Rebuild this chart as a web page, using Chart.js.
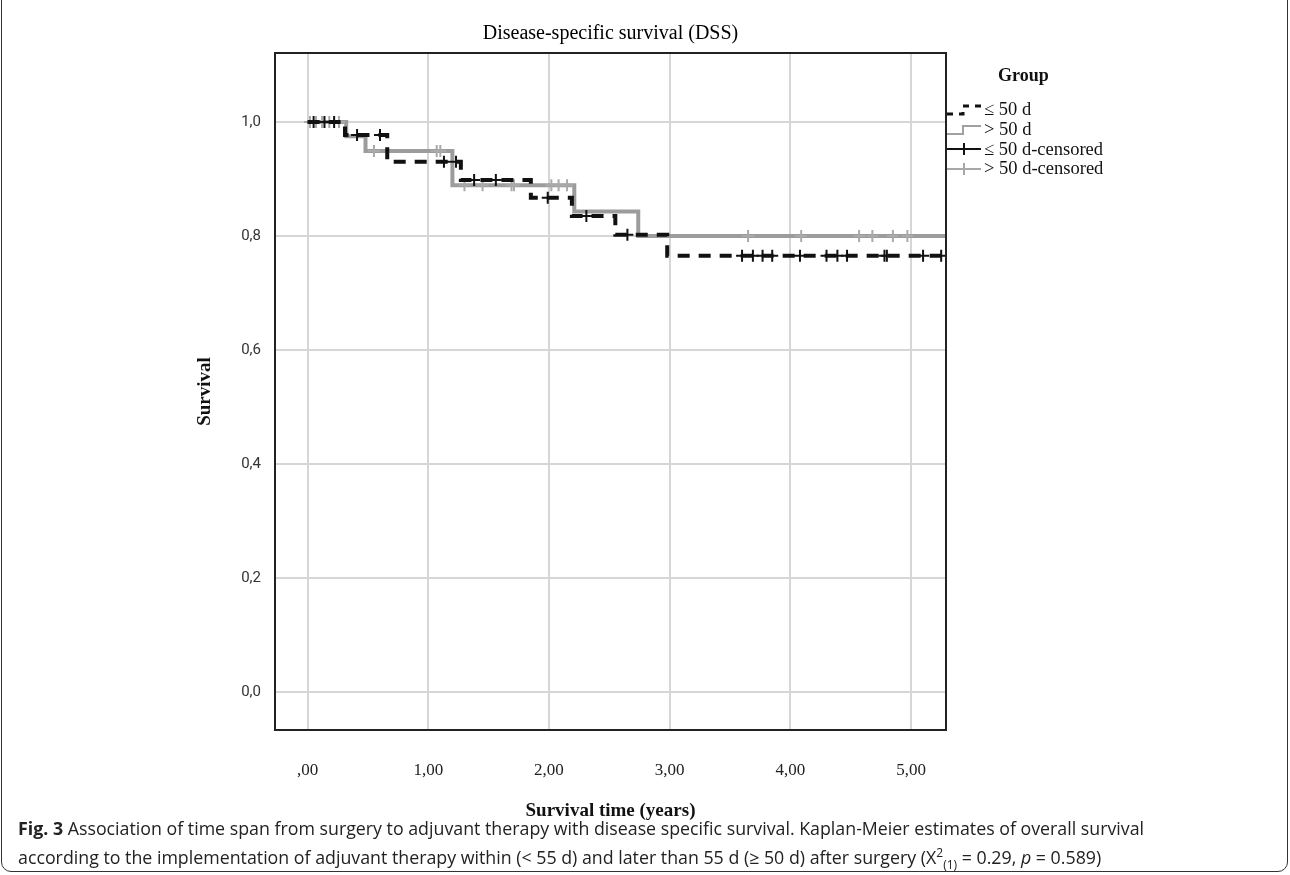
<!DOCTYPE html>
<html>
<head>
<meta charset="utf-8">
<script src="https://cdn.jsdelivr.net/npm/chart.js@4.4.0/dist/chart.umd.min.js"></script>
<style>
body { margin: 0; background: #fff; }
#frame { position: absolute; left: 1px; top: -10px; width: 1285px; height: 880px; border: 1.5px solid #333; border-radius: 10px; }
#wrap { position: absolute; left: 0; top: 0; width: 1290px; height: 840px; }
#legend { position: absolute; left: 946px; top: 65px; font-family: "Liberation Serif", serif; font-size: 18.5px; color: #111; }
#legend .head { font-weight: bold; font-size: 18px; margin-left: 52px; margin-bottom: 14px; }
#legend .row { display: flex; align-items: center; height: 19.7px; }
#legend svg { width: 36px; height: 14px; margin-right: 2px; }
#caption { position: absolute; left: 18px; top: 814px; font-family: "Liberation Sans Narrow", "Open Sans", sans-serif; font-size: 17.8px; line-height: 29px; color: #222; }
#caption sup, #caption sub { font-size: 12px; line-height: 0; }
</style>
</head>
<body>
<div id="frame"></div>
<div id="wrap"><canvas id="kmChart" width="1290" height="840"></canvas></div>
<div id="legend">
  <div class="head">Group</div>
  <div class="row"><svg viewBox="0 0 36 14"><path d="M1 11 H17 V3 H35" fill="none" stroke="#111" stroke-width="3" stroke-dasharray="6 6"/></svg>≤ 50 d</div>
  <div class="row"><svg viewBox="0 0 36 14"><path d="M1 11 H17 V3 H35" fill="none" stroke="#a0a0a0" stroke-width="2"/></svg>&gt; 50 d</div>
  <div class="row"><svg viewBox="0 0 36 14"><path d="M1 7 H35 M18 1 V13" fill="none" stroke="#111" stroke-width="2"/></svg>≤ 50 d-censored</div>
  <div class="row"><svg viewBox="0 0 36 14"><path d="M1 7 H35 M18 1 V13" fill="none" stroke="#a8a8a8" stroke-width="2"/></svg>&gt; 50 d-censored</div>
</div>
<div id="caption"><b>Fig. 3</b> Association of time span from surgery to adjuvant therapy with disease specific survival. Kaplan-Meier estimates of overall survival<br>according to the implementation of adjuvant therapy within (&lt; 55 d) and later than 55 d (≥ 50 d) after surgery (X<sup>2</sup><sub>(1)</sub>&nbsp;= 0.29, <i>p</i>&nbsp;= 0.589)</div>

<script>
// step curves (time in years, survival after the step)
const timesLe50 = [0, 0.31, 0.66, 1.27, 1.85, 2.19, 2.55, 2.98, 5.29];
const survLe50 = [1.0, 0.977, 0.930, 0.898, 0.867, 0.835, 0.802, 0.765, 0.765];
const timesGt50 = [0, 0.32, 0.48, 1.20, 2.21, 2.74, 5.29];
const survGt50 = [1.0, 0.975, 0.949, 0.889, 0.843, 0.800, 0.800];

// censored times
const censLe50 = [0.05, 0.14, 0.22, 0.41, 0.60, 1.13, 1.23, 1.38, 1.56, 1.99, 2.31, 2.65,
  3.60, 3.69, 3.77, 3.85, 4.08, 4.30, 4.39, 4.47, 4.78, 4.80, 5.10, 5.25];
const censGt50 = [0.02, 0.07, 0.12, 0.18, 0.26, 0.55, 1.07, 1.10, 1.30, 1.45, 1.69, 1.71,
  2.02, 2.08, 2.15, 3.65, 4.09, 4.57, 4.68, 4.85, 4.97];

const xTicks = [0, 1, 2, 3, 4, 5];
const yTicks = [0, 0.2, 0.4, 0.6, 0.8, 1.0];

function survAt(times, surv, t) {
  let s = surv[0];
  for (let i = 0; i < times.length; i++) {
    if (times[i] <= t) s = surv[i];
  }
  return s;
}

const lineLe50 = timesLe50.map((t, i) => ({ x: t, y: survLe50[i] }));
const lineGt50 = timesGt50.map((t, i) => ({ x: t, y: survGt50[i] }));
const ptsLe50 = censLe50.map(t => ({ x: t, y: survAt(timesLe50, survLe50, t) }));
const ptsGt50 = censGt50.map(t => ({ x: t, y: survAt(timesGt50, survGt50, t) }));

// box round the plot area
const boxPlugin = {
  id: 'box',
  afterDraw(chart) {
    const a = chart.chartArea;
    const ctx = chart.ctx;
    ctx.save();
    ctx.strokeStyle = '#222';
    ctx.lineWidth = 2;
    ctx.strokeRect(a.left, a.top, a.right - a.left, a.bottom - a.top);
    ctx.restore();
  }
};

const ctx = document.getElementById('kmChart').getContext('2d');
new Chart(ctx, {
  type: 'line',
  data: {
    datasets: [
      {
        label: '≤ 50 d',
        data: lineLe50,
        stepped: 'before',
        borderColor: '#111',
        borderWidth: 4,
        borderDash: [12, 9],
        pointRadius: 0,
        fill: false,
        order: 0
      },
      {
        label: '≤ 50 d-censored',
        data: ptsLe50,
        showLine: false,
        pointStyle: 'cross',
        pointRadius: 6,
        pointBorderWidth: 2,
        pointBorderColor: '#111',
        borderColor: '#111',
        order: 1
      },
      {
        label: '> 50 d-censored',
        data: ptsGt50,
        showLine: false,
        pointStyle: 'cross',
        pointRadius: 6,
        pointBorderWidth: 2,
        pointBorderColor: '#aaa',
        borderColor: '#aaa',
        order: 2
      },
      {
        label: '> 50 d',
        data: lineGt50,
        stepped: 'before',
        borderColor: '#9c9c9c',
        borderWidth: 4,
        pointRadius: 0,
        fill: false,
        order: 3
      }
    ]
  },
  options: {
    responsive: false,
    animation: false,
    layout: { padding: { left: 180, right: 344, top: 0, bottom: 0 } },
    plugins: {
      legend: { display: false },
      tooltip: { enabled: false },
      title: {
        display: true,
        fullSize: false,
        text: 'Disease-specific survival (DSS)',
        color: '#000',
        font: { family: 'Liberation Serif', size: 20, weight: 'normal' },
        padding: { top: 22, bottom: 7 }
      }
    },
    scales: {
      x: {
        type: 'linear',
        min: -0.27,
        max: 5.29,
        afterBuildTicks: scale => { scale.ticks = xTicks.map(v => ({ value: v })); },
        afterFit: scale => { scale.height = 110; },
        grid: { color: '#d6d6d6', lineWidth: 2, drawTicks: false },
        border: { display: false },
        ticks: {
          padding: 30,
          color: '#222',
          font: { family: 'Liberation Serif', size: 17 },
          callback: v => v === 0 ? ',00' : v.toFixed(2).replace('.', ',')
        },
        title: {
          display: true,
          text: 'Survival time (years)',
          color: '#111',
          font: { family: 'Liberation Serif', size: 19, weight: 'bold' },
          padding: { top: 19, bottom: 18 }
        }
      },
      y: {
        min: -0.067,
        max: 1.121,
        afterBuildTicks: scale => { scale.ticks = yTicks.map(v => ({ value: v })); },
        afterFit: scale => { scale.width = 95; },
        grid: { color: '#d6d6d6', lineWidth: 2, drawTicks: false },
        border: { display: false },
        ticks: {
          padding: 14,
          color: '#333',
          font: { family: 'Roboto', size: 15 },
          callback: v => v.toFixed(1).replace('.', ',')
        },
        title: {
          display: true,
          text: 'Survival',
          color: '#111',
          font: { family: 'Liberation Serif', size: 19, weight: 'bold' },
          padding: { top: 14, bottom: 26 }
        }
      }
    }
  },
  plugins: [boxPlugin]
});
</script>
</body>
</html>
